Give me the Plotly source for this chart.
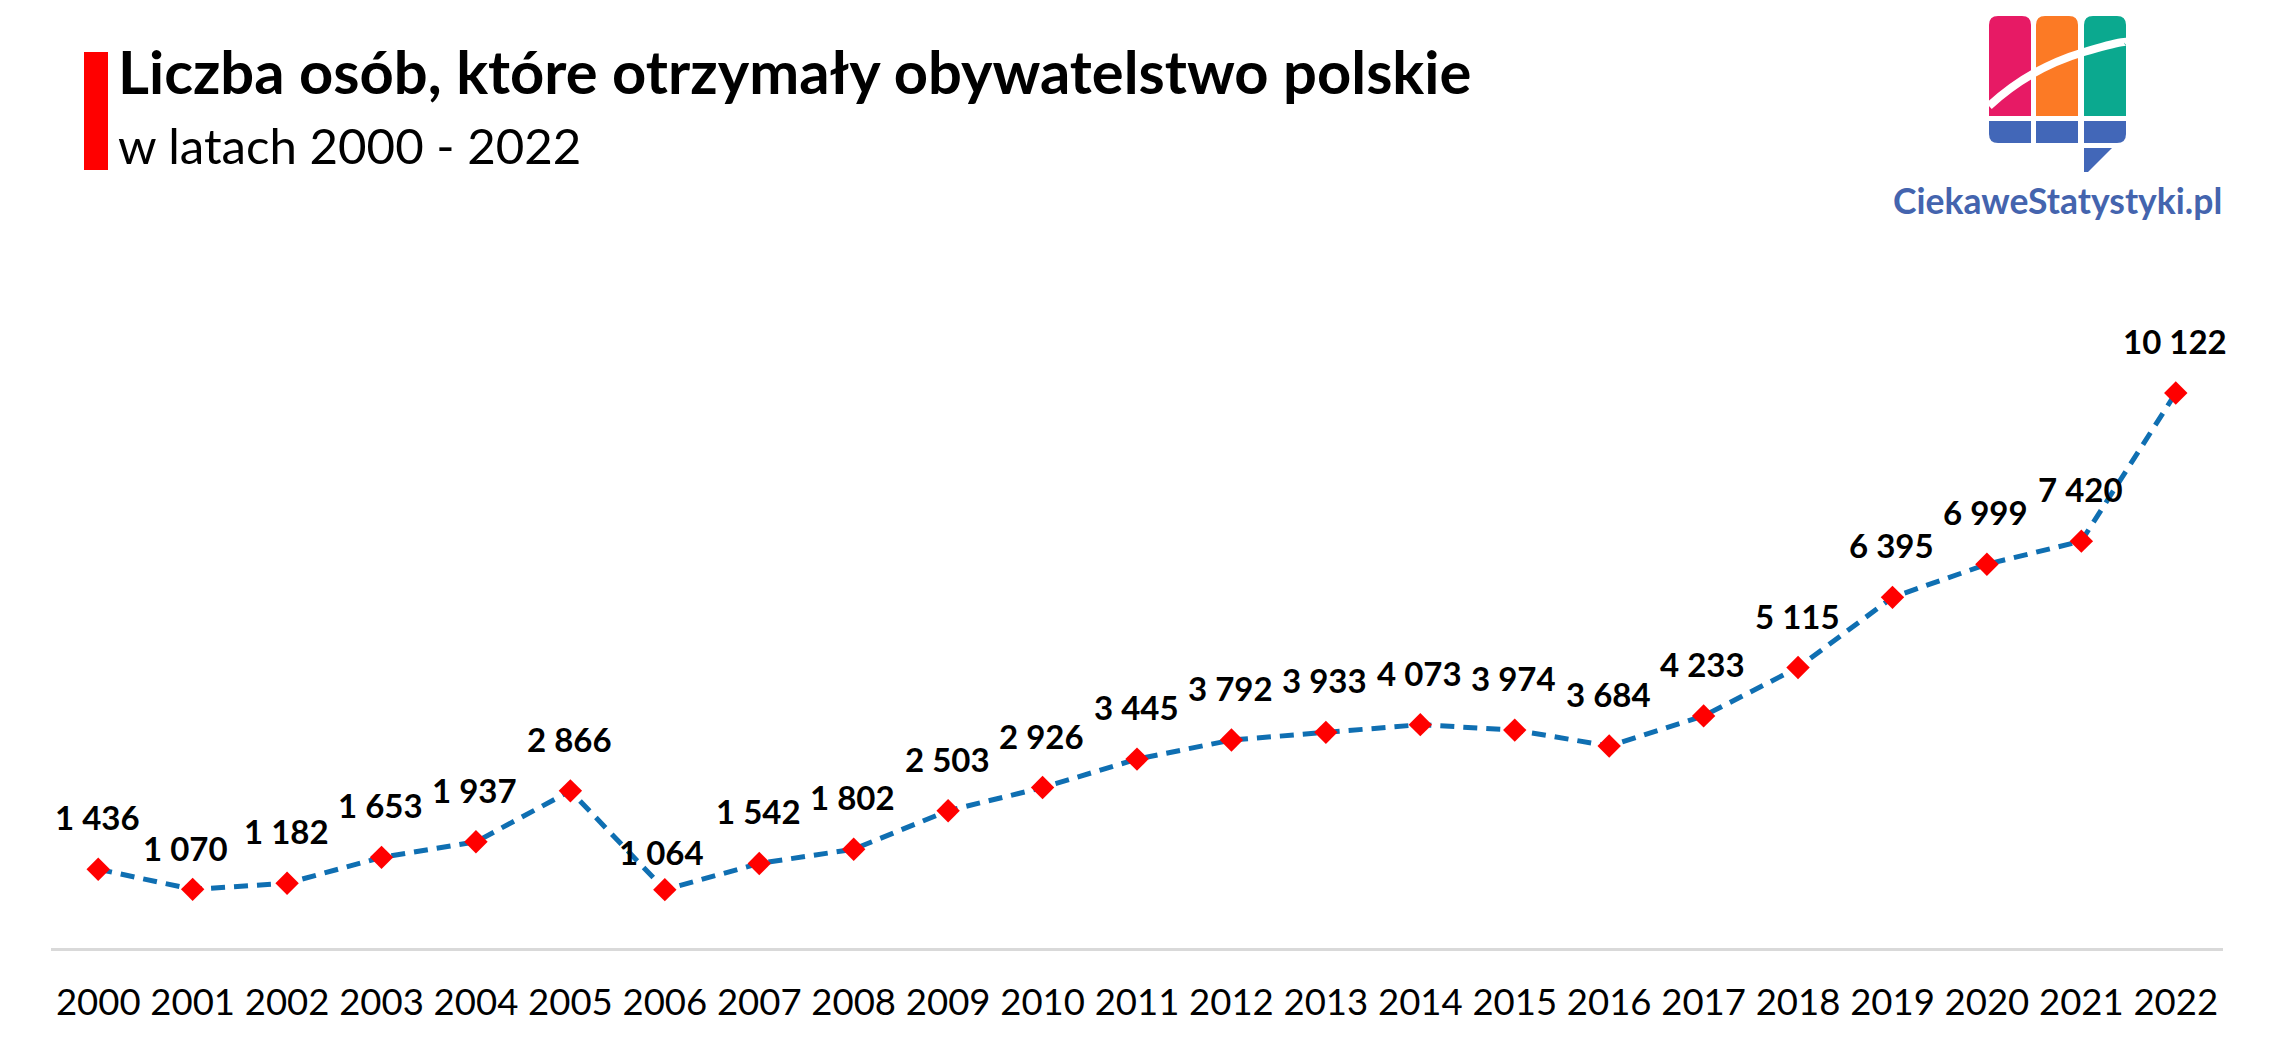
import plotly.graph_objects as go

years = list(range(2000, 2023))
persons = [1436, 1070, 1182, 1653, 1937, 2866, 1064, 1542, 1802, 2503, 2926, 3445,
           3792, 3933, 4073, 3974, 3684, 4233, 5115, 6395, 6999, 7420, 10122]
title_text = "Liczba osób, które otrzymały obywatelstwo polskie"
subtitle_text = "w latach 2000 - 2022"
brand_text = "CiekaweStatystyki.pl"

PAGE = 8  # default body margin of the written page
W, H = 2274 - PAGE, 1052 - PAGE
L, R, T, B = 51, 2223, 290, 948
label_offsets = {2001: (-7, 41), 2006: (-3, 38)}

def px(x): return (x - L) / (R - L)
def py(y): return (B - y) / (B - T)

def path(points):
    out = []
    for cmd, *c in points:
        xy = [f"{px(c[i])},{py(c[i+1])}" for i in range(0, len(c), 2)]
        out.append(cmd + " " + " ".join(xy))
    return " ".join(out) + " Z"

def rounded(x0, y0, x1, y1, tl=0, tr=0, br=0, bl=0):
    return path([
        ("M", x0 + tl, y0), ("L", x1 - tr, y0), ("Q", x1, y0, x1, y0 + tr),
        ("L", x1, y1 - br), ("Q", x1, y1, x1 - br, y1),
        ("L", x0 + bl, y1), ("Q", x0, y1, x0, y1 - bl),
        ("L", x0, y0 + tl), ("Q", x0, y0, x0 + tl, y0),
    ])

fig = go.Figure(go.Scatter(
    x=years, y=persons, mode="lines+markers", cliponaxis=False,
    line=dict(color="#0F6FB2", width=5, dash="14px,9px"),
    marker=dict(symbol="diamond", size=18, color="#FF0000"),
    showlegend=False, hoverinfo="x+y",
))

anns = []
for year, value in zip(years, persons):
    dx, dy = label_offsets.get(year, (-1, 52))
    anns.append(dict(x=year, y=value, xref="x", yref="y", text=f"{value:,}".replace(",", " "),
                     showarrow=False, xshift=dx, yshift=dy, xanchor="center", yanchor="middle",
                     font=dict(family="Lato", size=33, color="#000000", weight=700)))
anns.append(dict(x=px(116), y=py(71), xref="paper", yref="paper", text=title_text, showarrow=False,
                 xanchor="left", yanchor="middle",
                 font=dict(family="Lato", size=59.7, color="#000000", weight=700)))
anns.append(dict(x=px(116), y=py(145), xref="paper", yref="paper", text=subtitle_text, showarrow=False,
                 xanchor="left", yanchor="middle",
                 font=dict(family="Lato", size=49.2, color="#000000")))
anns.append(dict(x=px(2057), y=py(200), xref="paper", yref="paper", text=brand_text, showarrow=False,
                 xanchor="center", yanchor="middle",
                 font=dict(family="Lato", size=35.5, color="#4464AE", weight=700)))

def shape(p, color):
    return dict(type="path", xref="paper", yref="paper", path=p, fillcolor=color,
                line=dict(width=0), layer="above")

shapes = [
    dict(type="rect", xref="paper", yref="paper", x0=px(84), x1=px(108), y0=py(52), y1=py(170),
         fillcolor="#FF0000", line=dict(width=0), layer="above"),
    shape(rounded(1989, 16, 2031, 116, tl=9, tr=9), "#E71A65"),
    shape(rounded(2036, 16, 2078, 116, tl=9, tr=9), "#FC7A25"),
    shape(rounded(2084, 16, 2126, 116, tl=9, tr=9), "#0BA98F"),
    shape(rounded(1989, 121, 2031, 143, bl=9), "#4267B8"),
    shape(rounded(2036, 121, 2078, 143), "#4267B8"),
    shape(rounded(2084, 121, 2126, 143, br=9), "#4267B8"),
    shape(path([("M", 2084, 148), ("L", 2112, 148), ("L", 2088, 172), ("L", 2084, 172)]), "#4267B8"),
    dict(type="path", xref="paper", yref="paper",
         path=f"M {px(1989)},{py(106)} Q {px(2030)},{py(68)} {px(2084)},{py(52)} T {px(2126)},{py(45)}",
         line=dict(color="#FFFFFF", width=8), fillcolor="rgba(0,0,0,0)", layer="above"),
]

fig.update_layout(
    width=W, height=H, autosize=False,
    margin=dict(l=L - PAGE, r=W - (R - PAGE), t=T - PAGE, b=H - (B - PAGE), autoexpand=False),
    paper_bgcolor="#FFFFFF", plot_bgcolor="#FFFFFF",
    annotations=anns, shapes=shapes,
    xaxis=dict(type="linear", range=[1999.5, 2022.5], dtick=1, tick0=2000, tickformat="d",
               showgrid=False, zeroline=False,
               showline=True, linecolor="#D9D9D9", linewidth=3, ticks="",
               ticklabelstandoff=20, tickangle=0,
               tickfont=dict(family="Lato", size=36.5, color="#000000")),
    yaxis=dict(range=[0, 12000], showticklabels=False, showline=False, ticks="",
               showgrid=False, zeroline=False),
)
fig.write_html("out.html")
